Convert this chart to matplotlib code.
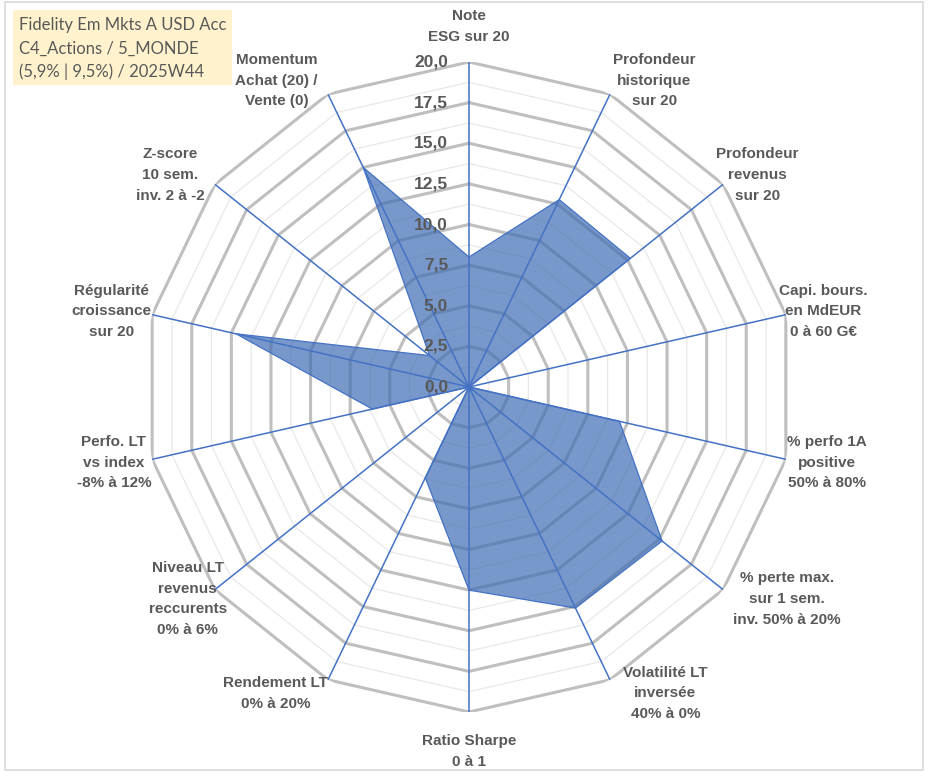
import matplotlib.pyplot as plt
from matplotlib.patches import Rectangle
import numpy as np

# axes of the radar, clockwise from the top
categories = [
    "Note\nESG sur 20",
    "Profondeur\nhistorique\nsur 20",
    "Profondeur\nrevenus\nsur 20",
    "Capi. bours.\nen MdEUR\n0 à 60 G€",
    "% perfo 1A\npositive\n50% à 80%",
    "% perte max.\nsur 1 sem.\ninv. 50% à 20%",
    "Volatilité LT\ninversée\n40% à 0%",
    "Ratio Sharpe\n0 à 1",
    "Rendement LT\n0% à 20%",
    "Niveau LT\nrevenus\nreccurents\n0% à 6%",
    "Perfo. LT\nvs index\n-8% à 12%",
    "Régularité\ncroissance\nsur 20",
    "Z-score\n10 sem.\ninv. 2 à -2",
    "Momentum\nAchat (20) /\nVente (0)",
]
scores = [8.0, 12.8, 12.7, 0.0, 9.5, 15.2, 15.1, 12.5, 6.2, 0.0, 6.1, 14.7, 3.1, 15.0]
ring_ticks = [0.0, 2.5, 5.0, 7.5, 10.0, 12.5, 15.0, 17.5, 20.0]
title_lines = ["Fidelity Em Mkts A USD Acc", "C4_Actions / 5_MONDE", "(5,9% | 9,5%) / 2025W44"]

# small horizontal nudges (px) so the labels sit where Excel put them
label_nudge = [0, 0, -10, -10, -2, 7, 10, 0, 3, 15, 2, 2, -7, -7]

GREY_TXT = "#595959"
BLUE = "#4472C4"

fig = plt.figure(figsize=(9.33, 7.76), dpi=100)
W, H = 933, 776
cx, cy, R = 469, 387, 325
ax = fig.add_axes([(cx - R) / W, (H - cy - R) / H, 2 * R / W, 2 * R / H], projection="polar")
ax.set_theta_zero_location("N")
ax.set_theta_direction(-1)
ax.set_ylim(0, 20)
ax.grid(False)
ax.spines["polar"].set_visible(False)
ax.set_xticks([])
ax.set_yticks([])
ax.patch.set_alpha(0)

n = len(categories)
theta = np.linspace(0, 2 * np.pi, n, endpoint=False)
theta_c = np.append(theta, theta[0])

# polygon rings: minor ones every 1.25, major every 2.5
for k in range(1, 17):
    v = k * 1.25
    if k % 2 == 0:
        ax.plot(theta_c, [v] * (n + 1), color="#BFBFBF", lw=2.2, zorder=1)
    else:
        ax.plot(theta_c, [v] * (n + 1), color="#E8E8E8", lw=0.9, zorder=0.5)

# spokes
for t in theta:
    ax.plot([t, t], [0, 20], color=BLUE, lw=1.1, zorder=3)

vals = np.append(scores, scores[0])
ax.fill(theta_c, vals, facecolor="#3F6DB5", alpha=0.7, edgecolor="none", zorder=2)
ax.plot(theta_c, vals, color=BLUE, lw=0.9, zorder=2.5)

# radial values along the top spoke
for v in ring_ticks:
    ax.annotate(f"{v:.1f}".replace(".", ","), xy=(0, v), xytext=(-15, 0), textcoords="offset points",
                ha="right", va="center", fontsize=12.5, fontweight="bold", color=GREY_TXT,
                family="Liberation Sans", zorder=5)

# category labels, placed beside the spoke tips
for t, lab, nx in zip(theta, categories, label_nudge):
    s, c = np.sin(t), np.cos(t)
    if abs(s) < 0.1:
        ha = "center"
        va = "bottom" if c > 0 else "top"
        off = (nx, 18 if c > 0 else -22)
    else:
        ha = "left" if s > 0 else "right"
        va = "center"
        off = ((3 if s > 0 else -3) + nx, 15 * c)
    ax.annotate(lab, xy=(t, 20), xytext=off, textcoords="offset pixels", ha=ha, va=va,
                fontsize=11, fontweight="bold", color=GREY_TXT, family="Liberation Sans",
                linespacing=1.6, multialignment="center", annotation_clip=False)

# title box
fig.patches.append(Rectangle((13 / W, 1 - 85 / H), 219 / W, 75 / H, transform=fig.transFigure,
                             facecolor="#FFF2CC", edgecolor="none", zorder=0))
for i, line in enumerate(title_lines):
    fig.text(19 / W, 1 - (25 + 23.5 * i) / H, line, ha="left", va="center", fontsize=12,
             color=GREY_TXT, family="Lato")

# chart frame
fig.patches.append(Rectangle((5 / W, 6 / H), 918 / W, 768 / H, transform=fig.transFigure,
                             facecolor="none", edgecolor="#D9D9D9", lw=1.2))

fig.savefig("out.png", dpi=100)
